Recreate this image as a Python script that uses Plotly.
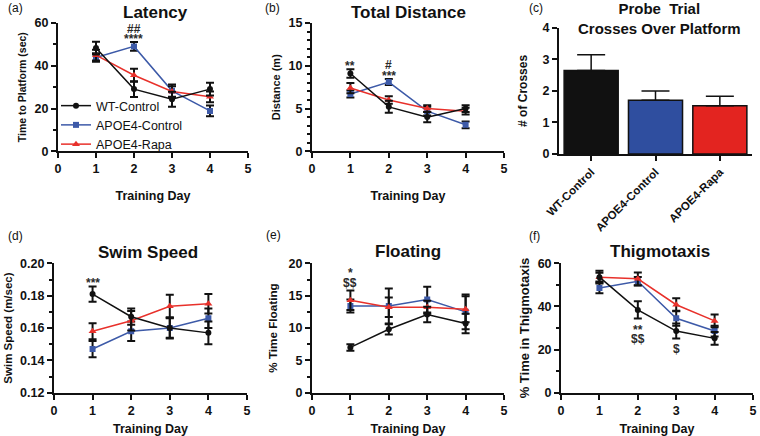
import plotly.graph_objects as go
from plotly.subplots import make_subplots

days = [1, 2, 3, 4]
groups = ["WT-Control", "APOE4-Control", "APOE4-Rapa"]

lat_wt = [48.3, 29.1, 24.4, 29.1]
lat_wt_err = [3.0, 3.7, 3.5, 3.0]
lat_apoe = [43.9, 49.1, 28.3, 18.9]
lat_apoe_err = [2.0, 2.0, 3.0, 2.5]
lat_rapa = [45.0, 35.6, 28.0, 25.5]
lat_rapa_err = [2.5, 3.0, 2.5, 2.5]

dist_wt = [9.1, 5.2, 4.0, 5.0]
dist_wt_err = [0.5, 0.7, 0.6, 0.4]
dist_apoe = [6.7, 8.1, 4.7, 3.1]
dist_apoe_err = [0.4, 0.35, 0.5, 0.4]
dist_rapa = [7.4, 6.0, 5.0, 4.7]
dist_rapa_err = [0.6, 0.45, 0.4, 0.4]

crosses = [2.65, 1.70, 1.53]
crosses_err = [0.50, 0.30, 0.30]

speed_wt = [0.181, 0.167, 0.160, 0.157]
speed_wt_err = [0.0047, 0.005, 0.0065, 0.007]
speed_apoe = [0.147, 0.158, 0.160, 0.166]
speed_apoe_err = [0.005, 0.006, 0.006, 0.006]
speed_rapa = [0.158, 0.1645, 0.1735, 0.175]
speed_rapa_err = [0.005, 0.006, 0.007, 0.006]

float_wt = [7.0, 9.8, 12.1, 10.7]
float_wt_err = [0.5, 0.8, 1.2, 1.5]
float_apoe = [13.4, 13.4, 14.4, 12.5]
float_apoe_err = [1.0, 2.7, 2.0, 2.7]
float_rapa = [14.3, 13.2, 13.2, 12.9]
float_rapa_err = [1.5, 1.5, 1.0, 2.0]

thig_wt = [53.6, 38.4, 28.6, 25.2]
thig_wt_err = [3.0, 4.0, 3.5, 3.0]
thig_apoe = [48.6, 51.7, 34.5, 28.6]
thig_apoe_err = [2.5, 2.0, 3.5, 2.5]
thig_rapa = [53.6, 52.8, 40.8, 33.3]
thig_rapa_err = [2.0, 3.0, 3.0, 3.0]

BLACK = "#111111"
BLUE = "#3d5aa8"
RED = "#e8312b"
FONT = "Liberation Sans, Arial, sans-serif"

fig = make_subplots(rows=2, cols=3)

def add_lines(row, col, wt, wt_e, ap, ap_e, ra, ra_e, legend=False):
    specs = [
        (ap, ap_e, BLUE, "square", 6, groups[1]),
        (ra, ra_e, RED, "triangle-up", 7, groups[2]),
        (wt, wt_e, BLACK, "circle", 6, groups[0]),
    ]
    for y, e, c, sym, sz, name in specs:
        fig.add_trace(go.Scatter(
            x=days, y=y, name=name, mode="lines+markers",
            line=dict(color=c, width=1.5),
            marker=dict(symbol=sym, size=sz, color=c),
            error_y=dict(type="data", array=e, color=BLACK, thickness=2, width=4),
            showlegend=legend, legendrank={groups[0]: 1, groups[1]: 2, groups[2]: 3}[name],
        ), row=row, col=col)

add_lines(1, 1, lat_wt, lat_wt_err, lat_apoe, lat_apoe_err, lat_rapa, lat_rapa_err, legend=True)
add_lines(1, 2, dist_wt, dist_wt_err, dist_apoe, dist_apoe_err, dist_rapa, dist_rapa_err)
add_lines(2, 1, speed_wt, speed_wt_err, speed_apoe, speed_apoe_err, speed_rapa, speed_rapa_err)
add_lines(2, 2, float_wt, float_wt_err, float_apoe, float_apoe_err, float_rapa, float_rapa_err)
add_lines(2, 3, thig_wt, thig_wt_err, thig_apoe, thig_apoe_err, thig_rapa, thig_rapa_err)

fig.add_trace(go.Bar(
    x=groups, y=crosses, showlegend=False,
    marker=dict(color=[BLACK, "#2f4e9f", "#e32420"], line=dict(color=BLACK, width=1.5)),
    error_y=dict(type="data", symmetric=False, array=crosses_err, arrayminus=[0, 0, 0],
                 color=BLACK, thickness=1.5, width=14),
), row=1, col=3)

tick_font = dict(family=FONT, size=12.5, color=BLACK, weight="bold")

domains = {
    (1, 1): ([0.0763, 0.3263], [0.653, 0.947]),
    (1, 2): ([0.4105, 0.6632], [0.653, 0.947]),
    (1, 3): ([0.7355, 0.9895], [0.647, 0.936]),
    (2, 1): ([0.0710, 0.3250], [0.0993, 0.396]),
    (2, 2): ([0.4105, 0.6632], [0.0993, 0.396]),
    (2, 3): ([0.7382, 0.9908], [0.0993, 0.396]),
}
# range, major step, minor step, title, standoff, title font size
yset = {
    (1, 1): ([0, 60], 20, 10, "Time to Platform (sec)", 6, 10.5),
    (1, 2): ([0, 15], 5, 1, "Distance (m)", 6, 11),
    (1, 3): ([0, 4], 1, None, "# of Crosses", 12, 12),
    (2, 1): ([0.12, 0.20], 0.02, 0.01, "Swim Speed (m/sec)", 5, 11.5),
    (2, 2): ([0, 20], 5, 2.5, "% Time Floating", 8, 11.7),
    (2, 3): ([0, 60], 20, 10, "% Time in Thigmotaxis", 5, 13),
}

for (r, c), (dx, dy) in domains.items():
    rng, dt, mdt, ttl, so, fs = yset[(r, c)]
    fig.update_xaxes(domain=dx, showline=True, linewidth=2, linecolor=BLACK,
                     ticks="outside", ticklen=5, tickwidth=2, tickcolor=BLACK,
                     showgrid=False, zeroline=False, tickfont=tick_font,
                     automargin=False, row=r, col=c)
    ykw = dict(domain=dy, range=rng, dtick=dt, tick0=rng[0], showline=True, linewidth=2,
               linecolor=BLACK, ticks="outside", ticklen=5, tickwidth=2, tickcolor=BLACK,
               showgrid=False, zeroline=False, tickfont=tick_font, automargin=False,
               title=dict(text=ttl, standoff=so,
                          font=dict(family=FONT, size=fs, color=BLACK, weight="bold")))
    if mdt:
        ykw["minor"] = dict(ticks="outside", dtick=mdt, tick0=rng[0], ticklen=3,
                            tickwidth=1.5, tickcolor=BLACK)
    if (r, c) == (2, 1):
        ykw["tickformat"] = ".2f"
    fig.update_yaxes(row=r, col=c, **ykw)
    if (r, c) != (1, 3):
        fig.update_xaxes(range=[0, 5], dtick=1, row=r, col=c,
                         title=dict(text="Training Day", font=dict(family=FONT, size=12.5,
                                    color=BLACK, weight="bold"), standoff=16))

fig.update_xaxes(range=[-0.5, 2.5], tickangle=-45, row=1, col=3,
                 tickfont=dict(family=FONT, size=11.5, color=BLACK, weight="bold"))

annots = []
for text, x, y in [("Latency", 155, 12), ("Total Distance", 408, 12),
                   ("Swim Speed", 148, 252), ("Floating", 408, 251),
                   ("Thigmotaxis", 660, 251)]:
    annots.append(dict(text=text, x=x / 760, y=1 - y / 436, xref="paper", yref="paper",
                       showarrow=False, xanchor="center", yanchor="middle",
                       font=dict(family=FONT, size=17, color=BLACK, weight="bold")))
annots.append(dict(text="Probe\u00a0\u00a0Trial<br>Crosses Over Platform", x=659 / 760,
                   y=1 + 2 / 436, xref="paper", yref="paper", showarrow=False,
                   xanchor="center", yanchor="top",
                   font=dict(family=FONT, size=15, color=BLACK, weight="bold")))
for text, x, y in [("(a)", 6, 8), ("(b)", 263, 8), ("(c)", 527, 8),
                   ("(d)", 6, 236), ("(e)", 264, 235), ("(f)", 527, 236)]:
    annots.append(dict(text=text, x=x / 760, y=1 - y / 436, xref="paper", yref="paper",
                       showarrow=False, xanchor="left", yanchor="middle",
                       font=dict(family=FONT, size=12, color=BLACK)))

STAR = dict(family=FONT, size=12, color="#2a2a2a", weight="bold")
for text, ax, x, y in [("##", "1", 2, 57.2), ("****", "1", 2, 52.5),
                       ("**", "2", 1, 10.0), ("#", "2", 2, 10.1), ("***", "2", 2, 8.8),
                       ("***", "4", 1, 0.1878),
                       ("*", "5", 1, 18.5), ("$$", "5", 1, 17.0),
                       ("**", "6", 2, 29.3), ("$$", "6", 2, 25.0), ("$", "6", 3, 20.2)]:
    annots.append(dict(text=text, x=x, y=y, xref="x" + ax, yref="y" + ax,
                       xanchor="center", showarrow=False, font=STAR))

fig.update_layout(
    width=760, height=436, margin=dict(l=0, r=0, t=0, b=0),
    plot_bgcolor="white", paper_bgcolor="white",
    font=dict(family=FONT, color=BLACK),
    annotations=annots,
    bargap=0.16,
    legend=dict(x=56 / 760, y=1 - 91 / 436, xanchor="left", yanchor="top",
                bgcolor="rgba(0,0,0,0)", font=dict(family=FONT, size=12.5, color=BLACK),
                tracegroupgap=0, itemwidth=30),
)

fig.write_html("out.html", config={"displayModeBar": False},
               post_script="document.body.style.margin='0';")
